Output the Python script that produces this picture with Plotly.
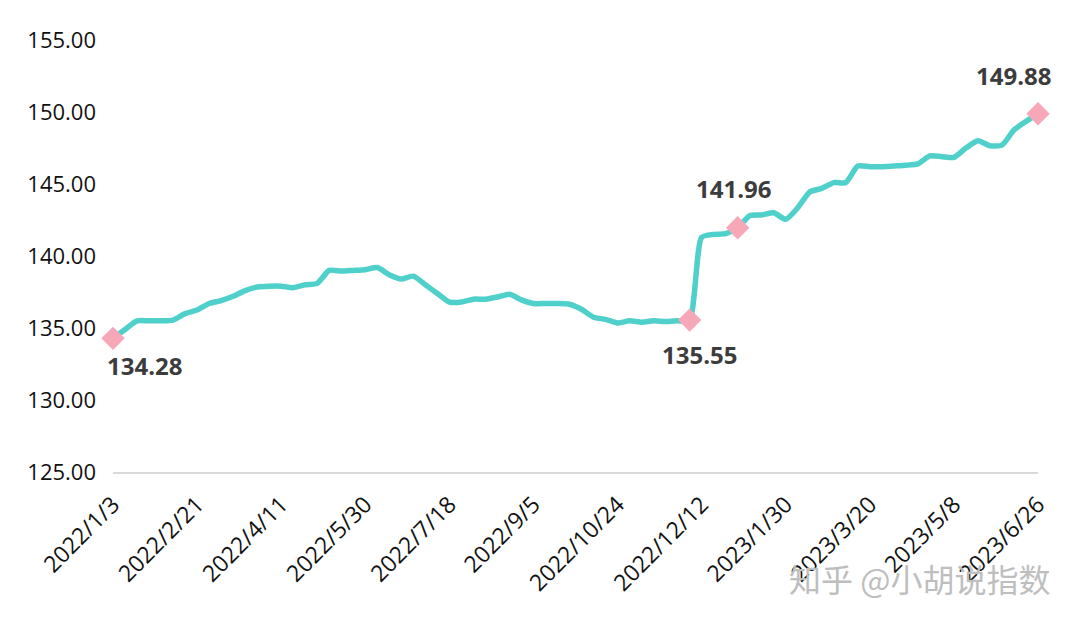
import pandas as pd
import plotly.graph_objects as go

# weekly dates (Mondays) 2022/1/3 .. 2023/6/26
dates = pd.date_range("2022-01-03", "2023-06-26", freq="7D")
date_labels = [f"{d.year}/{d.month}/{d.day}" for d in dates]

values = [
    134.28, 134.90, 135.50, 135.50, 135.50, 135.55, 136.00, 136.25, 136.70, 136.90,
    137.20, 137.60, 137.85, 137.90, 137.90, 137.80, 138.00, 138.10, 139.00, 138.95,
    139.00, 139.05, 139.20, 138.70, 138.40, 138.60, 138.00, 137.40, 136.80, 136.80,
    137.00, 137.00, 137.15, 137.35, 136.95, 136.70, 136.70, 136.70, 136.65, 136.30,
    135.75, 135.60, 135.35, 135.50, 135.40, 135.50, 135.45, 135.50, 135.55, 141.30,
    141.50, 141.55, 141.96, 142.80, 142.85, 143.00, 142.55, 143.35, 144.45, 144.70,
    145.10, 145.10, 146.25, 146.20, 146.20, 146.25, 146.30, 146.40, 146.95, 146.90,
    146.85, 147.50, 148.00, 147.65, 147.70, 148.75, 149.35, 149.88,
]

highlight_idx = [0, 48, 52, 77]
label_offsets = [(31, -27), (10, -34), (-4, 39), (-25, 38)]

tick_labels = date_labels[::7]
y_ticks = [125, 130, 135, 140, 145, 150, 155]

fig = go.Figure()
fig.add_trace(go.Scatter(
    x=date_labels, y=values, mode="lines",
    line=dict(color="#4FD0CA", width=5.5, shape="spline", smoothing=0.6),
    hoverinfo="x+y", showlegend=False, cliponaxis=False,
))
fig.add_trace(go.Scatter(
    x=[date_labels[i] for i in highlight_idx],
    y=[values[i] for i in highlight_idx],
    mode="markers",
    marker=dict(symbol="diamond", size=18, color="#F7A8B8"),
    showlegend=False, cliponaxis=False,
))
for i, (dx, dy) in zip(highlight_idx, label_offsets):
    fig.add_annotation(
        x=date_labels[i], y=values[i], text=f"<b>{values[i]:.2f}</b>",
        showarrow=False, xshift=dx, yshift=dy,
        font=dict(family="Open Sans", size=24, color="#3C3C3C"),
    )

fig.add_annotation(
    xref="paper", yref="paper", x=1.015, y=-0.245, xanchor="right", yanchor="middle",
    text="知乎 @小胡说指数", showarrow=False,
    font=dict(family="Noto Sans CJK SC", size=32, color="#BEBEBE"),
)

fig.update_xaxes(
    type="category", range=[0, len(date_labels) - 1], automargin=False,
    tickmode="array", tickvals=tick_labels, ticktext=tick_labels,
    tickangle=-45, tickfont=dict(family="Open Sans", size=23, color="#111111"),
    showgrid=False, showline=True, linecolor="#D9D9D9", linewidth=2,
    ticks="", zeroline=False, ticklabelstandoff=8,
)
fig.update_yaxes(
    range=[125, 155], tickvals=y_ticks, ticktext=[f"{v:.2f}" for v in y_ticks],
    automargin=False,
    tickfont=dict(family="Open Sans", size=22, color="#111111"),
    showgrid=False, zeroline=False, showline=False, ticks="", ticklabelstandoff=16,
)
fig.update_layout(
    width=1080, height=627,
    margin=dict(l=105, r=50, t=32, b=163),
    paper_bgcolor="white", plot_bgcolor="white",
)
fig.write_html("out.html")
